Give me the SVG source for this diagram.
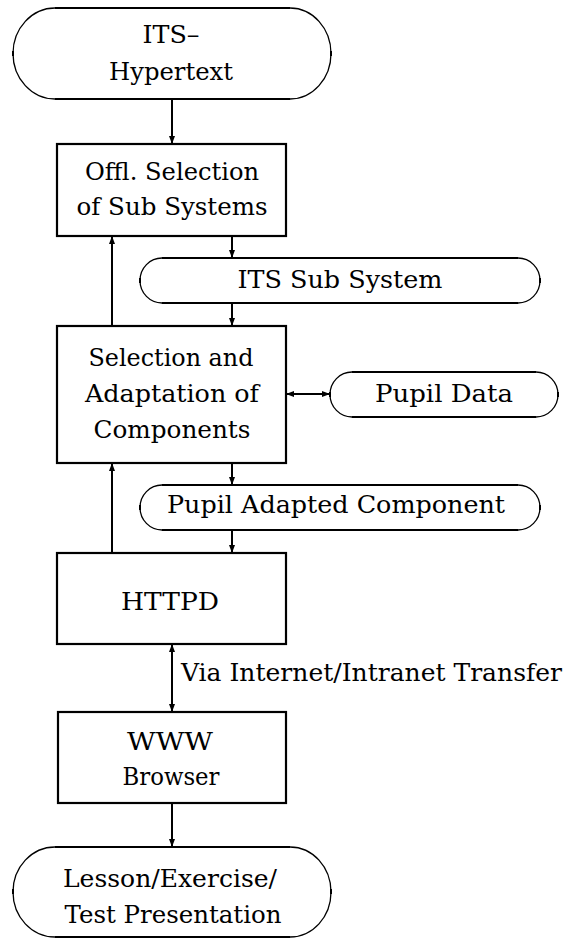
<svg xmlns="http://www.w3.org/2000/svg" width="569" height="938" viewBox="0 0 569 938">
<style>
text{font-family:'DejaVu Serif','Liberation Serif',serif;font-size:25px;fill:#000}
.box{fill:none;stroke:#000;stroke-width:2.2}
.arc{fill:none;stroke:#000;stroke-width:1.3}
.flat{fill:none;stroke:#000;stroke-width:2.2}
.dot{fill:none;stroke:#000;stroke-width:2}
.conn{fill:none;stroke:#000;stroke-width:2}
</style>
<defs>
<marker id="ah" markerUnits="userSpaceOnUse" markerWidth="9" markerHeight="8" refX="8" refY="4" orient="auto-start-reverse">
<path d="M0,1 L8,4 L0,7 z" fill="#000"/>
</marker>
</defs>
<rect width="569" height="938" fill="#fff"/>

<g id="n-its-hypertext">
<path class="flat" d="M55,8 H290 M55,99 H290"/>
<path class="arc" d="M55,8 A42,45.5 0 0 0 55,99 M290,99 A41,45.5 0 0 0 290,8"/>
<path class="dot" d="M13,51 V56 M331,51 V56"/>
<text x="171" y="43" text-anchor="middle" textLength="57" lengthAdjust="spacingAndGlyphs">ITS–</text>
<text x="171" y="80" text-anchor="middle" textLength="124" lengthAdjust="spacingAndGlyphs">Hypertext</text>
</g>

<g id="n-offl-selection">
<rect class="box" x="57" y="144" width="229" height="92"/>
<text x="172" y="180" text-anchor="middle" textLength="174" lengthAdjust="spacingAndGlyphs">Offl. Selection</text>
<text x="172" y="215" text-anchor="middle" textLength="191" lengthAdjust="spacingAndGlyphs">of Sub Systems</text>
</g>

<g id="n-its-sub-system">
<path class="flat" d="M162,258 H518 M162,303 H518"/>
<path class="arc" d="M162,258 A22,22.5 0 0 0 162,303 M518,303 A22,22.5 0 0 0 518,258"/>
<path class="dot" d="M140,278 V283 M540,278 V283"/>
<text x="340" y="288" text-anchor="middle" textLength="205" lengthAdjust="spacingAndGlyphs">ITS Sub System</text>
</g>

<g id="n-selection-adaptation">
<rect class="box" x="57" y="326" width="229" height="137"/>
<text x="171" y="366" text-anchor="middle" textLength="165" lengthAdjust="spacingAndGlyphs">Selection and</text>
<text x="172" y="402" text-anchor="middle" textLength="174" lengthAdjust="spacingAndGlyphs">Adaptation of</text>
<text x="172" y="438" text-anchor="middle" textLength="157" lengthAdjust="spacingAndGlyphs">Components</text>
</g>

<g id="n-pupil-data">
<path class="flat" d="M352,372 H536 M352,417 H536"/>
<path class="arc" d="M352,372 A22,22.5 0 0 0 352,417 M536,417 A22,22.5 0 0 0 536,372"/>
<path class="dot" d="M330,392 V397 M558,392 V397"/>
<text x="444" y="402" text-anchor="middle" textLength="138" lengthAdjust="spacingAndGlyphs">Pupil Data</text>
</g>

<g id="n-pupil-adapted">
<path class="flat" d="M162,485 H518 M162,530 H518"/>
<path class="arc" d="M162,485 A22,22.5 0 0 0 162,530 M518,530 A22,22.5 0 0 0 518,485"/>
<path class="dot" d="M140,505 V510 M540,505 V510"/>
<text x="336" y="513" text-anchor="middle" textLength="338" lengthAdjust="spacingAndGlyphs">Pupil Adapted Component</text>
</g>

<g id="n-httpd">
<rect class="box" x="57" y="553" width="229" height="91"/>
<text x="170" y="610" text-anchor="middle" textLength="98" lengthAdjust="spacingAndGlyphs">HTTPD</text>
</g>

<g id="n-www-browser">
<rect class="box" x="58" y="712" width="228" height="91"/>
<text x="170" y="750" text-anchor="middle" textLength="86" lengthAdjust="spacingAndGlyphs">WWW</text>
<text x="171" y="785" text-anchor="middle" textLength="97" lengthAdjust="spacingAndGlyphs">Browser</text>
</g>

<g id="n-lesson">
<path class="flat" d="M55,847 H290 M55,937 H290"/>
<path class="arc" d="M55,847 A42,45 0 0 0 55,937 M290,937 A41,45 0 0 0 290,847"/>
<path class="dot" d="M13,889 V894 M331,889 V894"/>
<text x="170" y="887" text-anchor="middle" textLength="214" lengthAdjust="spacingAndGlyphs">Lesson/Exercise/</text>
<text x="173" y="923" text-anchor="middle" textLength="217" lengthAdjust="spacingAndGlyphs">Test Presentation</text>
</g>

<g id="connectors">
<line class="conn" x1="172" y1="99" x2="172" y2="144" marker-end="url(#ah)"/>
<line class="conn" x1="232" y1="236" x2="232" y2="258" marker-end="url(#ah)"/>
<line class="conn" x1="232" y1="303" x2="232" y2="326" marker-end="url(#ah)"/>
<line class="conn" x1="112" y1="326" x2="112" y2="236" marker-end="url(#ah)"/>
<line class="conn" x1="286" y1="394" x2="330" y2="394" marker-start="url(#ah)" marker-end="url(#ah)"/>
<line class="conn" x1="232" y1="463" x2="232" y2="485" marker-end="url(#ah)"/>
<line class="conn" x1="232" y1="530" x2="232" y2="553" marker-end="url(#ah)"/>
<line class="conn" x1="112" y1="553" x2="112" y2="463" marker-end="url(#ah)"/>
<line class="conn" x1="172" y1="644" x2="172" y2="712" marker-start="url(#ah)" marker-end="url(#ah)"/>
<line class="conn" x1="172" y1="803" x2="172" y2="847" marker-end="url(#ah)"/>
<text x="181" y="681" textLength="381" lengthAdjust="spacingAndGlyphs">Via Internet/Intranet Transfer</text>
</g>
</svg>
